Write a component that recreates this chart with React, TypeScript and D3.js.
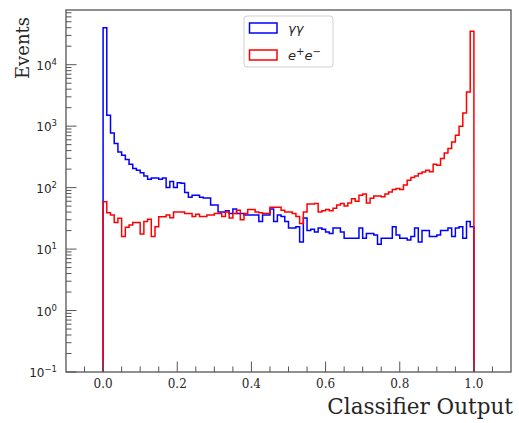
import React from "react";
import * as d3 from "d3";

// Histogram bin counts (100 bins from 0 to 1)
const gammaGamma: number[] = [
  39800, 1500, 776, 522, 381, 337, 287, 240, 205, 192,
  174, 154, 137, 144, 144, 137, 144, 100, 126, 100,
  120, 118, 83, 70, 75, 75, 70, 68, 68, 52,
  52, 40, 40, 42, 38, 45, 38, 38, 36, 36,
  36, 36, 28, 36, 36, 45, 28, 36, 34, 28,
  22, 22, 23, 13, 32, 20, 21, 19, 22, 21,
  19, 18, 22, 22, 19, 15, 15, 15, 15, 22,
  15, 18, 18, 17, 12, 15, 15, 15, 23, 17,
  15, 15, 14, 16, 22, 13, 20, 20, 16, 16,
  17, 20, 20, 22, 16, 22, 23, 15, 28, 23,
];

const electronPositron: number[] = [
  59, 39, 36, 27, 31.6, 16, 22.6, 24.6, 27, 27,
  17.6, 28, 30.5, 16, 23, 33.6, 33.6, 36, 32.4, 40,
  40, 40, 38, 38, 34, 37, 34, 34, 36, 36,
  38, 38, 34, 40, 32, 38, 43, 30, 38, 44,
  44, 40, 39, 38, 38, 48, 48, 48, 43, 40,
  40, 38, 34, 26, 40, 54, 54, 55, 40, 42,
  44, 42, 46, 52, 55, 50, 56, 66, 60, 75,
  79, 56, 67, 73, 73, 71, 79, 85, 93, 97,
  93, 110, 132, 146, 155, 170, 180, 192, 181, 240,
  231, 298, 367, 433, 554, 711, 1000, 1640, 3590, 35100,
];

const xTickValues: number[] = [0, 0.2, 0.4, 0.6, 0.8, 1.0];
const xTickLabels: string[] = ["0.0", "0.2", "0.4", "0.6", "0.8", "1.0"];
const yDecades: number[] = [-1, 0, 1, 2, 3, 4];
const yExpLabels: string[] = ["\u22121", "0", "1", "2", "3", "4"];

const BIN_LO = 0;
const BIN_HI = 1;

const W = 519;
const H = 423;
const M = { left: 66, right: 511, top: 10, bottom: 372 };

export default function App() {
  const x = d3.scaleLinear().domain([-0.1, 1.1]).range([M.left, M.right]);
  const y = d3.scaleLog().domain([0.1, Math.pow(10, 4.89)]).range([M.bottom, M.top]);

  const stepPath = (vals: number[]) => {
    const n = vals.length;
    const w = (BIN_HI - BIN_LO) / n;
    const pts: [number, number][] = [];
    pts.push([x(BIN_LO), M.bottom + 2]);
    vals.forEach((v, i) => {
      pts.push([x(BIN_LO + i * w), y(v)]);
      pts.push([x(BIN_LO + (i + 1) * w), y(v)]);
    });
    pts.push([x(BIN_HI), M.bottom + 2]);
    return d3.line()(pts) as string;
  };

  const xMinor = d3.range(-0.05, 1.1, 0.05).filter(
    (v) => !xTickValues.some((t) => Math.abs(t - v) < 1e-6)
  );
  const yMinor: number[] = [];
  for (let e = -1; e <= 4; e++) {
    for (let k = 2; k <= 9; k++) {
      const v = k * Math.pow(10, e);
      if (v <= Math.pow(10, 4.89)) yMinor.push(v);
    }
  }

  const axisColor = "#555";
  const textColor = "#262626";

  return (
    <svg
      width={W}
      height={H}
      style={{ position: "absolute", left: 0, top: 0, background: "#fff" }}
      fontFamily="DejaVu Sans"
    >
      <defs>
        <clipPath id="plotclip">
          <rect x={M.left} y={M.top} width={M.right - M.left} height={M.bottom - M.top} />
        </clipPath>
      </defs>
      <rect x={0} y={0} width={W} height={H} fill="#fff" />
      <g clipPath="url(#plotclip)" fill="none" strokeWidth={1.5} strokeLinejoin="miter">
        <path d={stepPath(gammaGamma)} stroke="#0000ff" />
        <path d={stepPath(electronPositron)} stroke="#ff0000" />
      </g>

      {/* ticks */}
      <g stroke={axisColor} strokeWidth={1}>
        {xTickValues.map((t) => (
          <line key={"xm" + t} x1={x(t)} x2={x(t)} y1={M.bottom} y2={M.bottom - 10.5} />
        ))}
        {xMinor.map((t) => (
          <line key={"xn" + t} x1={x(t)} x2={x(t)} y1={M.bottom} y2={M.bottom - 5.5} />
        ))}
        {yDecades.map((d) => (
          <line key={"ym" + d} x1={M.left} x2={M.left + 10.5} y1={y(Math.pow(10, d))} y2={y(Math.pow(10, d))} />
        ))}
        {yMinor.map((v) => (
          <line key={"yn" + v} x1={M.left} x2={M.left + 5.5} y1={y(v)} y2={y(v)} />
        ))}
      </g>

      <rect
        x={M.left}
        y={M.top}
        width={M.right - M.left}
        height={M.bottom - M.top}
        fill="none"
        stroke={axisColor}
        strokeWidth={1.3}
      />

      {/* x tick labels */}
      <g fontFamily="DejaVu Serif" fontSize={12} fill={textColor} textAnchor="middle">
        {xTickValues.map((t, i) => (
          <text key={"xl" + t} x={x(t)} y={M.bottom + 15.5}>
            {xTickLabels[i]}
          </text>
        ))}
      </g>

      {/* y tick labels */}
      <g fontSize={12} fill={textColor} textAnchor="end">
        {yDecades.map((d, i) => (
          <text key={"yl" + d} x={M.left - 9} y={y(Math.pow(10, d)) + 5}>
            10
            <tspan fontSize={8.5} dy={-5}>
              {yExpLabels[i]}
            </tspan>
          </text>
        ))}
      </g>

      {/* axis labels */}
      <text
        x={M.right + 2}
        y={414}
        fontFamily="DejaVu Serif"
        fontSize={21.5}
        fill={textColor}
        textAnchor="end"
      >
        Classifier Output
      </text>
      <text
        transform={`translate(29, 17) rotate(-90)`}
        fontFamily="DejaVu Serif"
        fontSize={18}
        fill={textColor}
        textAnchor="end"
      >
        Events
      </text>

      {/* legend */}
      <g>
        <rect x={244} y={16} width={89} height={51} rx={3} fill="#fff" fillOpacity={0.8} stroke="#d0d0d0" strokeWidth={1} />
        <rect x={249.5} y={23} width={27.5} height={10} fill="none" stroke="#0000ff" strokeWidth={1.5} />
        <rect x={249.5} y={50} width={27.5} height={10} fill="none" stroke="#ff0000" strokeWidth={1.5} />
        <text x={288} y={33} fontSize={13} fontStyle="italic" fill={textColor}>
          γγ
        </text>
        <text x={288} y={60} fontSize={13} fontStyle="italic" fill={textColor}>
          e<tspan fontSize={10} dy={-5}>+</tspan>
          <tspan dy={5}>e</tspan>
          <tspan fontSize={10} dy={-5}>{"\u2212"}</tspan>
        </text>
      </g>
    </svg>
  );
}
